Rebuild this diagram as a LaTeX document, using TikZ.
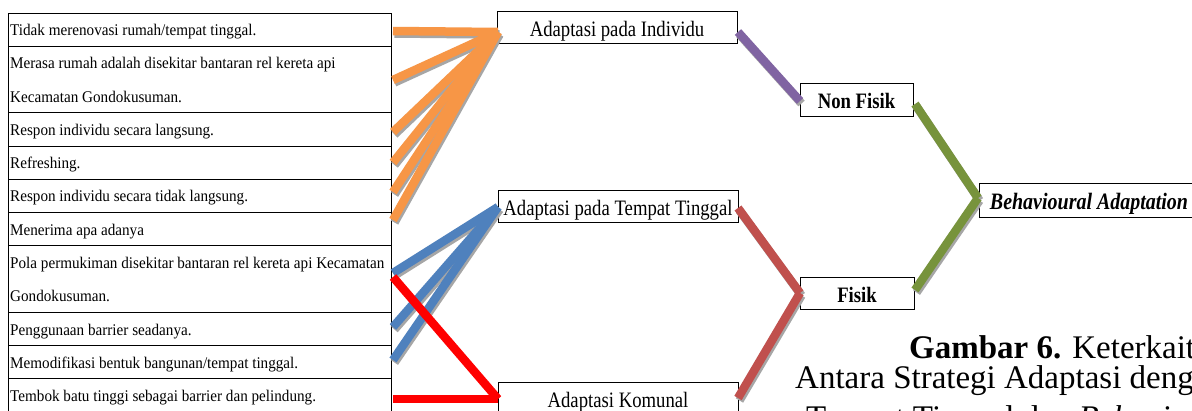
\documentclass[tikz,border=0pt]{standalone}
\usepackage{fontspec}
\setmainfont{Liberation Serif}
\newfontfamily\tabfont[FakeStretch=0.93]{Liberation Serif}
\newfontfamily\boxfont[FakeStretch=0.85]{Liberation Serif}
\usetikzlibrary{calc}
\definecolor{corange}{HTML}{F79646}
\definecolor{cblue}{HTML}{4F81BD}
\definecolor{cred}{HTML}{FF0000}
\definecolor{cpurple}{HTML}{8064A2}
\definecolor{cbrown}{HTML}{C0504D}
\definecolor{cgreen}{HTML}{77933C}
\definecolor{shadowgray}{HTML}{A6A6A6}
\tikzset{
  rowbox/.style={draw=black, line width=1pt, minimum width=383pt, inner sep=0pt, outer sep=0pt, anchor=north west},
  rowtext/.style={anchor=base west, inner sep=0pt, font=\tabfont\fontsize{16.3}{20}\selectfont},
  midbox/.style={draw=black, line width=1pt, fill=white, inner sep=0pt, outer sep=0pt, minimum height=32pt, text height=19pt, text depth=1pt, font=\boxfont\fontsize{22}{24}\selectfont},
  conn/.style={line width=8.5pt},
  shadowline/.style={line width=8.5pt, draw=shadowgray},
  captext/.style={anchor=base west, inner sep=0pt, font=\fontsize{33}{36}\selectfont}
}
\begin{document}
\begin{tikzpicture}[x=1pt,y=-1pt]
\useasboundingbox (0,0) rectangle (1192,410);
\clip (0,0) rectangle (1192,410);
\fill[white] (0,0) rectangle (1192,410);

% table rows
\node[rowbox, minimum height=33pt] (r1) at (8,13) {};
\node[rowbox, minimum height=66pt] (r2) at (8,46) {};
\node[rowbox, minimum height=34pt] (r3) at (8,112) {};
\node[rowbox, minimum height=33pt] (r4) at (8,146) {};
\node[rowbox, minimum height=33pt] (r5) at (8,179) {};
\node[rowbox, minimum height=33pt] (r6) at (8,212) {};
\node[rowbox, minimum height=67pt] (r7) at (8,245) {};
\node[rowbox, minimum height=33pt] (r8) at (8,312) {};
\node[rowbox, minimum height=33pt] (r9) at (8,345) {};
\node[rowbox, minimum height=34pt] (r10) at (8,378) {};

\node[rowtext] (t1) at (10,35) {Tidak merenovasi rumah/tempat tinggal.};
\node[rowtext] (t2a) at (10,68) {Merasa rumah adalah disekitar bantaran rel kereta api};
\node[rowtext] (t2b) at (10,102) {Kecamatan Gondokusuman.};
\node[rowtext] (t3) at (10,135) {Respon individu secara langsung.};
\node[rowtext] (t4) at (10,168) {Refreshing.};
\node[rowtext] (t5) at (10,201) {Respon individu secara tidak langsung.};
\node[rowtext] (t6) at (10,235) {Menerima apa adanya};
\node[rowtext] (t7a) at (10,268) {Pola permukiman disekitar bantaran rel kereta api Kecamatan};
\node[rowtext] (t7b) at (10,301) {Gondokusuman.};
\node[rowtext] (t8) at (10,335) {Penggunaan barrier seadanya.};
\node[rowtext] (t9) at (10,368) {Memodifikasi bentuk bangunan/tempat tinggal.};
\node[rowtext] (t10) at (10,401) {Tembok batu tinggi sebagai barrier dan pelindung.};

% middle and right boxes
\node[midbox, minimum width=240pt] (ind) at (617,27) {Adaptasi pada Individu};
\node[midbox, minimum width=240pt] (tt) at (618,206) {Adaptasi pada Tempat Tinggal};
\node[midbox, minimum width=240pt] (kom) at (618,398) {Adaptasi Komunal};
\node[midbox, minimum width=113pt, minimum height=33pt] (nf) at (856.5,99.5) {\bfseries Non Fisik};
\node[midbox, minimum width=114pt] (fis) at (857,293) {\bfseries Fisik};
\node[midbox, minimum width=220pt, minimum height=34pt, font=\boxfont\fontsize{23.5}{25}\selectfont] (beh) at (1089,200) {\bfseries\itshape Behavioural Adaptation};

% connector end points
\coordinate (o1) at ($(r1.east)+(2,1.5)$);
\coordinate (o2) at ($(r2.east)+(2,1)$);
\coordinate (o3) at ($(r3.east)+(2,3)$);
\coordinate (o4) at ($(r4.east)+(2,0)$);
\coordinate (o5) at ($(r5.east)+(2,-3.5)$);
\coordinate (o6) at ($(r6.east)+(2,-8.5)$);
\coordinate (pI) at ($(ind.west)+(1,5)$);
\coordinate (b7) at ($(r7.east)+(2,-5.5)$);
\coordinate (b8) at ($(r8.east)+(2,-1.5)$);
\coordinate (b9) at ($(r9.east)+(2,-1.5)$);
\coordinate (pT) at ($(tt.west)+(0,1)$);
\coordinate (e7) at ($(r7.east)+(2,-1.5)$);
\coordinate (e10) at ($(r10.east)+(2,4)$);
\coordinate (pK) at ($(kom.west)+(0,1)$);
\coordinate (qI) at ($(ind.east)+(1,5)$);
\coordinate (qN) at ($(nf.west)+(0,1.5)$);
\coordinate (qT) at ($(tt.east)+(0,2)$);
\coordinate (qF) at (fis.west);
\coordinate (qK) at (kom.east);
\coordinate (gN) at ($(nf.east)+(2,4.5)$);
\coordinate (gF) at ($(fis.east)+(1,-3)$);
\coordinate (pB) at ($(beh.west)+(-1,-2)$);

% shadows
\begin{scope}[transform canvas={shift={(1.5pt,-2.5pt)}}]
\draw[shadowline] (o1) -- (pI);
\draw[shadowline] (o2) -- (pI);
\draw[shadowline] (o3) -- (pI);
\draw[shadowline] (o4) -- (pI);
\draw[shadowline] (o5) -- (pI);
\draw[shadowline] (o6) -- (pI);
\draw[shadowline] (b7) -- (pT);
\draw[shadowline] (b8) -- (pT);
\draw[shadowline] (b9) -- (pT);
\draw[shadowline] (qI) -- (qN);
\draw[shadowline] (qT) -- (qF);
\draw[shadowline] (qK) -- (qF);
\draw[shadowline] (gN) -- (pB);
\draw[shadowline] (gF) -- (pB);
\end{scope}

% orange connectors
\draw[conn, corange] (o1) -- (pI);
\draw[conn, corange] (o2) -- (pI);
\draw[conn, corange] (o3) -- (pI);
\draw[conn, corange] (o4) -- (pI);
\draw[conn, corange] (o5) -- (pI);
\draw[conn, corange] (o6) -- (pI);

% blue connectors
\draw[conn, cblue] (b7) -- (pT);
\draw[conn, cblue] (b8) -- (pT);
\draw[conn, cblue] (b9) -- (pT);

% red connectors
\draw[conn, cred] (e7) -- (pK);
\draw[conn, cred] (e10) -- (pK);

% to Non Fisik / Fisik
\draw[conn, cpurple] (qI) -- (qN);
\draw[conn, cbrown] (qT) -- (qF);
\draw[conn, cbrown] (qK) -- (qF);

% to Behavioural Adaptation
\draw[conn, cgreen] (gN) -- (pB);
\draw[conn, cgreen] (gF) -- (pB);

% caption
\node[captext] (cap1) at (909,358) {\textbf{Gambar 6.} Keterkaitan};
\node[captext] (cap2) at (795,388) {Antara Strategi Adaptasi dengan};
\node[captext] (cap3) at (806,428) {Tempat Tinggal dan \textit{Behavioural Adaptation}};
\end{tikzpicture}
\end{document}
